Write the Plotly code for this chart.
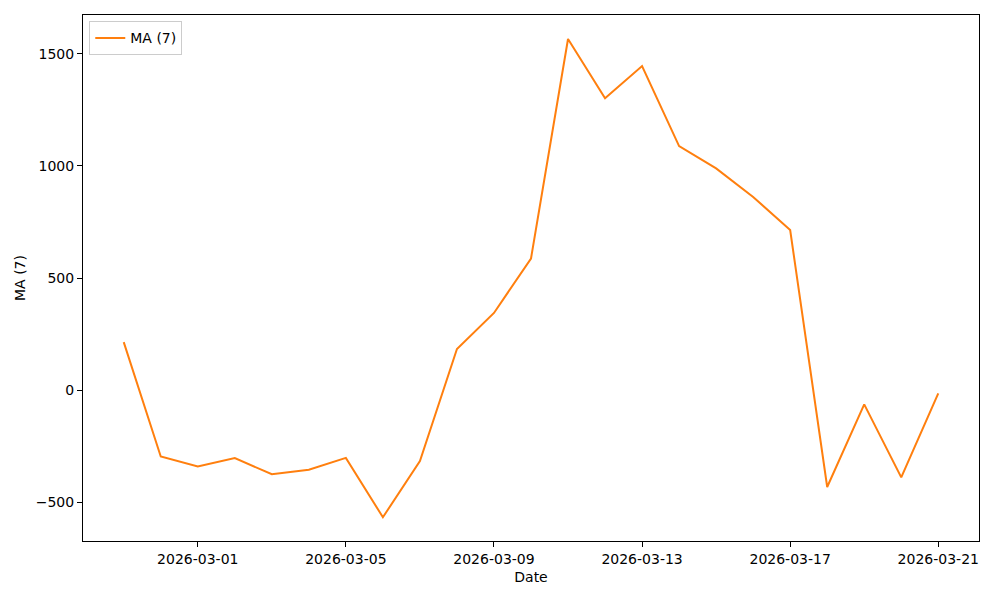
import plotly.graph_objects as go
import pandas as pd

dates = pd.date_range("2026-02-27", "2026-03-21", freq="D").strftime("%Y-%m-%d").tolist()
ma7 = [214, -297, -341, -304, -376, -356, -303, -568, -317, 183, 344, 587,
       1567, 1302, 1446, 1089, 989, 862, 714, -433, -64, -390, -15]
x_ticks = ["2026-03-01", "2026-03-05", "2026-03-09", "2026-03-13", "2026-03-17", "2026-03-21"]
y_ticks = [-500, 0, 500, 1000, 1500]
series_name = "MA (7)"

fig = go.Figure()
fig.add_trace(go.Scatter(x=dates, y=ma7, mode="lines", name=series_name,
                         line=dict(color="#ff7f0e", width=2)))

axis_common = dict(showline=True, linecolor="black", linewidth=1, mirror=True,
                   ticks="outside", ticklen=5, tickcolor="black", showgrid=False,
                   zeroline=False, automargin=False,
                   tickfont=dict(size=14, color="black"))

fig.update_layout(
    width=1000, height=600,
    paper_bgcolor="white", plot_bgcolor="white",
    margin=dict(l=83, r=21, t=15, b=59),
    font=dict(family="DejaVu Sans", size=14, color="black"),
    showlegend=True,
    legend=dict(x=0.007, y=0.988, xanchor="left", yanchor="top",
                bordercolor="#cccccc", borderwidth=1, bgcolor="rgba(255,255,255,0.8)",
                font=dict(size=14), itemwidth=30),
    xaxis=dict(axis_common, type="date",
               range=["2026-02-25 21:36", "2026-03-22 02:24"],
               tickvals=x_ticks, ticktext=x_ticks,
               title=dict(text="Date", font=dict(size=14), standoff=6)),
    yaxis=dict(axis_common, range=[-674, 1674], tickvals=y_ticks,
               title=dict(text=series_name, font=dict(size=14), standoff=6)),
)

fig.write_html("out.html", config={"displayModeBar": False},
               post_script="document.body.style.margin='0';")
